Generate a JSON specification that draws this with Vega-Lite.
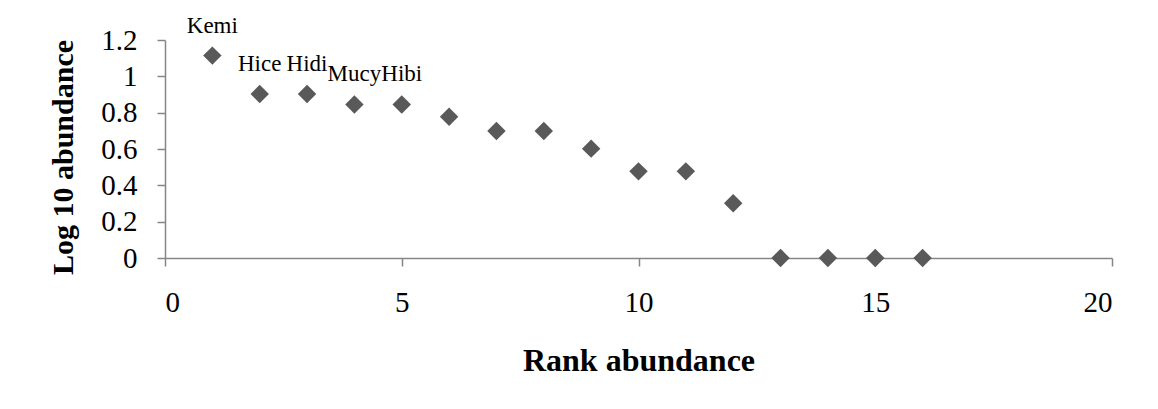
{
  "$schema": "https://vega.github.io/schema/vega-lite/v6.json",
  "width": 947,
  "height": 218,
  "autosize": {"type": "none"},
  "padding": {"left": 165, "top": 40, "right": 46, "bottom": 151},
  "background": "white",
  "config": {"view": {"stroke": null}, "font": "Liberation Serif"},
  "data": {
    "values": [
      {"rank": 1, "log": 1.114, "species": "Kemi"},
      {"rank": 2, "log": 0.903, "species": "Hice"},
      {"rank": 3, "log": 0.903, "species": "Hidi"},
      {"rank": 4, "log": 0.845, "species": "Mucy"},
      {"rank": 5, "log": 0.845, "species": "Hibi"},
      {"rank": 6, "log": 0.778, "species": ""},
      {"rank": 7, "log": 0.699, "species": ""},
      {"rank": 8, "log": 0.699, "species": ""},
      {"rank": 9, "log": 0.602, "species": ""},
      {"rank": 10, "log": 0.477, "species": ""},
      {"rank": 11, "log": 0.477, "species": ""},
      {"rank": 12, "log": 0.301, "species": ""},
      {"rank": 13, "log": 0, "species": ""},
      {"rank": 14, "log": 0, "species": ""},
      {"rank": 15, "log": 0, "species": ""},
      {"rank": 16, "log": 0, "species": ""}
    ]
  },
  "encoding": {
    "x": {
      "field": "rank",
      "type": "quantitative",
      "scale": {"domain": [0, 20], "nice": false, "zero": false},
      "axis": {
        "values": [0, 5, 10, 15, 20],
        "grid": false,
        "tickSize": 8,
        "tickWidth": 1.5,
        "tickColor": "#868686",
        "domainColor": "#868686",
        "domainWidth": 1.5,
        "labelFont": "Liberation Serif",
        "labelFontSize": 29,
        "labelColor": "black",
        "labelPadding": 22,
        "title": "Rank abundance",
        "titleFont": "Liberation Serif",
        "titleFontSize": 32,
        "titleFontWeight": "bold",
        "titleColor": "black",
        "titleBaseline": "alphabetic",
        "titleY": 112
      }
    },
    "y": {
      "field": "log",
      "type": "quantitative",
      "scale": {"domain": [0, 1.2], "nice": false},
      "axis": {
        "values": [0, 0.2, 0.4, 0.6, 0.8, 1, 1.2],
        "format": "~g",
        "grid": false,
        "tickSize": 8,
        "tickWidth": 1.5,
        "tickColor": "#868686",
        "domainColor": "#868686",
        "domainWidth": 1.5,
        "labelFont": "Liberation Serif",
        "labelFontSize": 29,
        "labelColor": "black",
        "labelPadding": 20,
        "title": "Log 10 abundance",
        "titleFont": "Liberation Serif",
        "titleFontSize": 30,
        "titleFontWeight": "bold",
        "titleColor": "black",
        "titleBaseline": "alphabetic",
        "titleX": -93,
        "titleY": 117
      }
    }
  },
  "layer": [
    {
      "mark": {"type": "point", "shape": "diamond", "filled": true, "size": 340, "color": "#595959", "opacity": 1}
    },
    {
      "transform": [{"filter": "datum.species != ''"}],
      "mark": {"type": "text", "dy": -23, "fontSize": 23, "font": "Liberation Serif", "color": "black", "baseline": "alphabetic", "align": "center"},
      "encoding": {"text": {"field": "species"}}
    }
  ]
}
